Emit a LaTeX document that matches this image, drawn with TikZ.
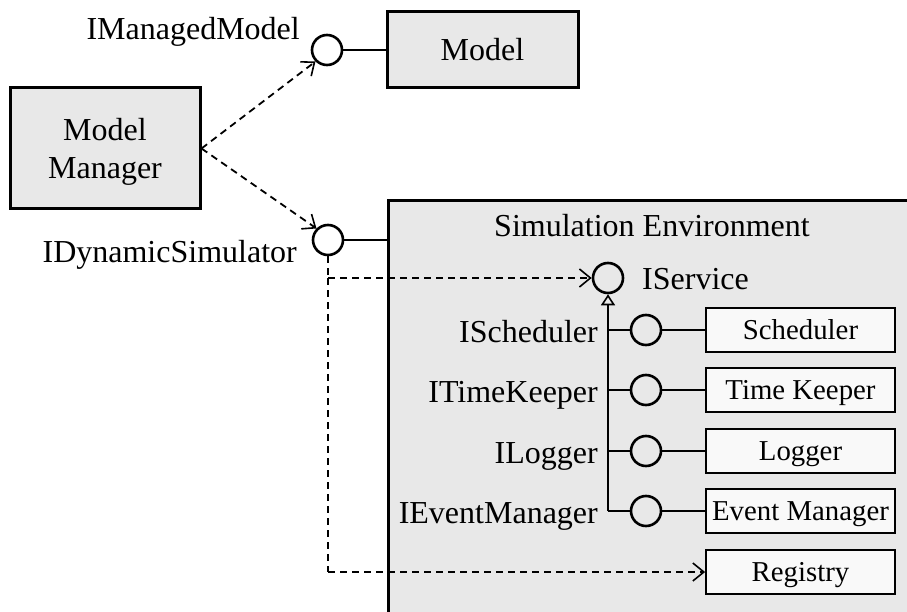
\documentclass[tikz,border=0pt]{standalone}
\usepackage{fontspec}
\setmainfont{Liberation Serif}
\usetikzlibrary{arrows.meta}
\begin{document}
\begin{tikzpicture}[x=1pt,y=-1pt,
  bigfont/.style={font=\fontsize{32}{38}\selectfont},
  smallfont/.style={font=\fontsize{28.8}{34}\selectfont},
  mainbox/.style={draw=black,line width=3pt,fill=gray!18,bigfont,align=center,inner sep=0pt},
  subbox/.style={draw=black,line width=1.8pt,fill=gray!5,smallfont,minimum width=189pt,minimum height=44pt,inner sep=0pt,text height=19pt,text depth=0pt},
  iface/.style={circle,draw=black,line width=2.6pt,minimum size=30pt,inner sep=0pt},
  lbl/.style={bigfont,inner sep=0pt},
  dep/.style={line width=1.8pt,dash pattern=on 7pt off 5pt,-{Straight Barb[length=11pt,width=18pt,line width=1.6pt]}},
  depline/.style={line width=1.8pt,dash pattern=on 7pt off 5pt},
  solid line/.style={line width=2.6pt},
  thinline/.style={line width=2pt}
]
\useasboundingbox (0,0) rectangle (907,612);
% Simulation Environment frame (extends past page)
\fill[gray!18] (388,201) rectangle (907,612);
\draw[line width=3pt] (388,612) -- (388,201) -- (907,201);
\node[bigfont,anchor=base,inner sep=0pt] (simenv) at (652,237) {Simulation Environment};

% top-level boxes
\node[mainbox,minimum width=190pt,minimum height=121pt,text depth=0pt] (mm) at (105,148.5) {Model\\Manager};
\node[mainbox,minimum width=191pt,minimum height=76pt,text height=21pt,text depth=0pt] (model) at (482.5,50) {Model};

% interfaces
\node[iface] (imm) at (327,50) {};
\node[lbl,anchor=base east] (immlbl) at (300,40) {IManagedModel};
\node[iface] (ids) at (328,240) {};
\node[lbl,anchor=base east] (idslbl) at (297,263) {IDynamicSimulator};
\node[iface] (isv) at (608,278) {};
\node[lbl,anchor=base west] (isvlbl) at (642,290) {IService};

\draw[solid line] (imm.east) -- (model.west |- imm.east);
\draw[solid line] (ids.east) -- (388,240);

\draw[dep] (mm.east) -- (imm.south west);
\draw[dep] (mm.east) -- (ids.north west);

% dashed from IDynamicSimulator
\coordinate (branch) at (328,278);
\coordinate (corner) at (328,572);
\draw[depline] (ids.south) -- (branch);
\draw[dep] (branch) -- (isv.west);

% services
\node[subbox] (sch) at (800.5,330) {Scheduler};
\node[subbox] (tk) at (800.5,390) {Time Keeper};
\node[subbox] (lg) at (800.5,451) {Logger};
\node[subbox] (em) at (800.5,511) {Event Manager};
\node[subbox] (reg) at (800.5,572) {Registry};

\draw[depline] (branch) -- (corner);
\draw[dep] (corner) -- (reg.west);

\node[iface] (isch) at (646,330) {};
\node[iface] (itk) at (646,390) {};
\node[iface] (ilg) at (646,451) {};
\node[iface] (iem) at (646,511) {};

\node[lbl,anchor=base east] (ischl) at (598,342) {IScheduler};
\node[lbl,anchor=base east] (itkl) at (598,402) {ITimeKeeper};
\node[lbl,anchor=base east] (ilgl) at (598,463) {ILogger};
\node[lbl,anchor=base east] (ieml) at (598,523) {IEventManager};

\foreach \i/\b in {isch/sch,itk/tk,ilg/lg,iem/em}{
  \draw[solid line] (\i.east) -- (\b.west);
}
% generalisation tree
\coordinate (trunkbot) at (608,511);
\draw[thinline,-{Triangle[open,length=11pt,width=14pt,line width=1.6pt]}] (trunkbot) -- (isv.south);
\draw[thinline] (trunkbot) -- (iem.west);
\draw[thinline] (608,330) -- (isch.west);
\draw[thinline] (608,390) -- (itk.west);
\draw[thinline] (608,451) -- (ilg.west);
\end{tikzpicture}
\end{document}
